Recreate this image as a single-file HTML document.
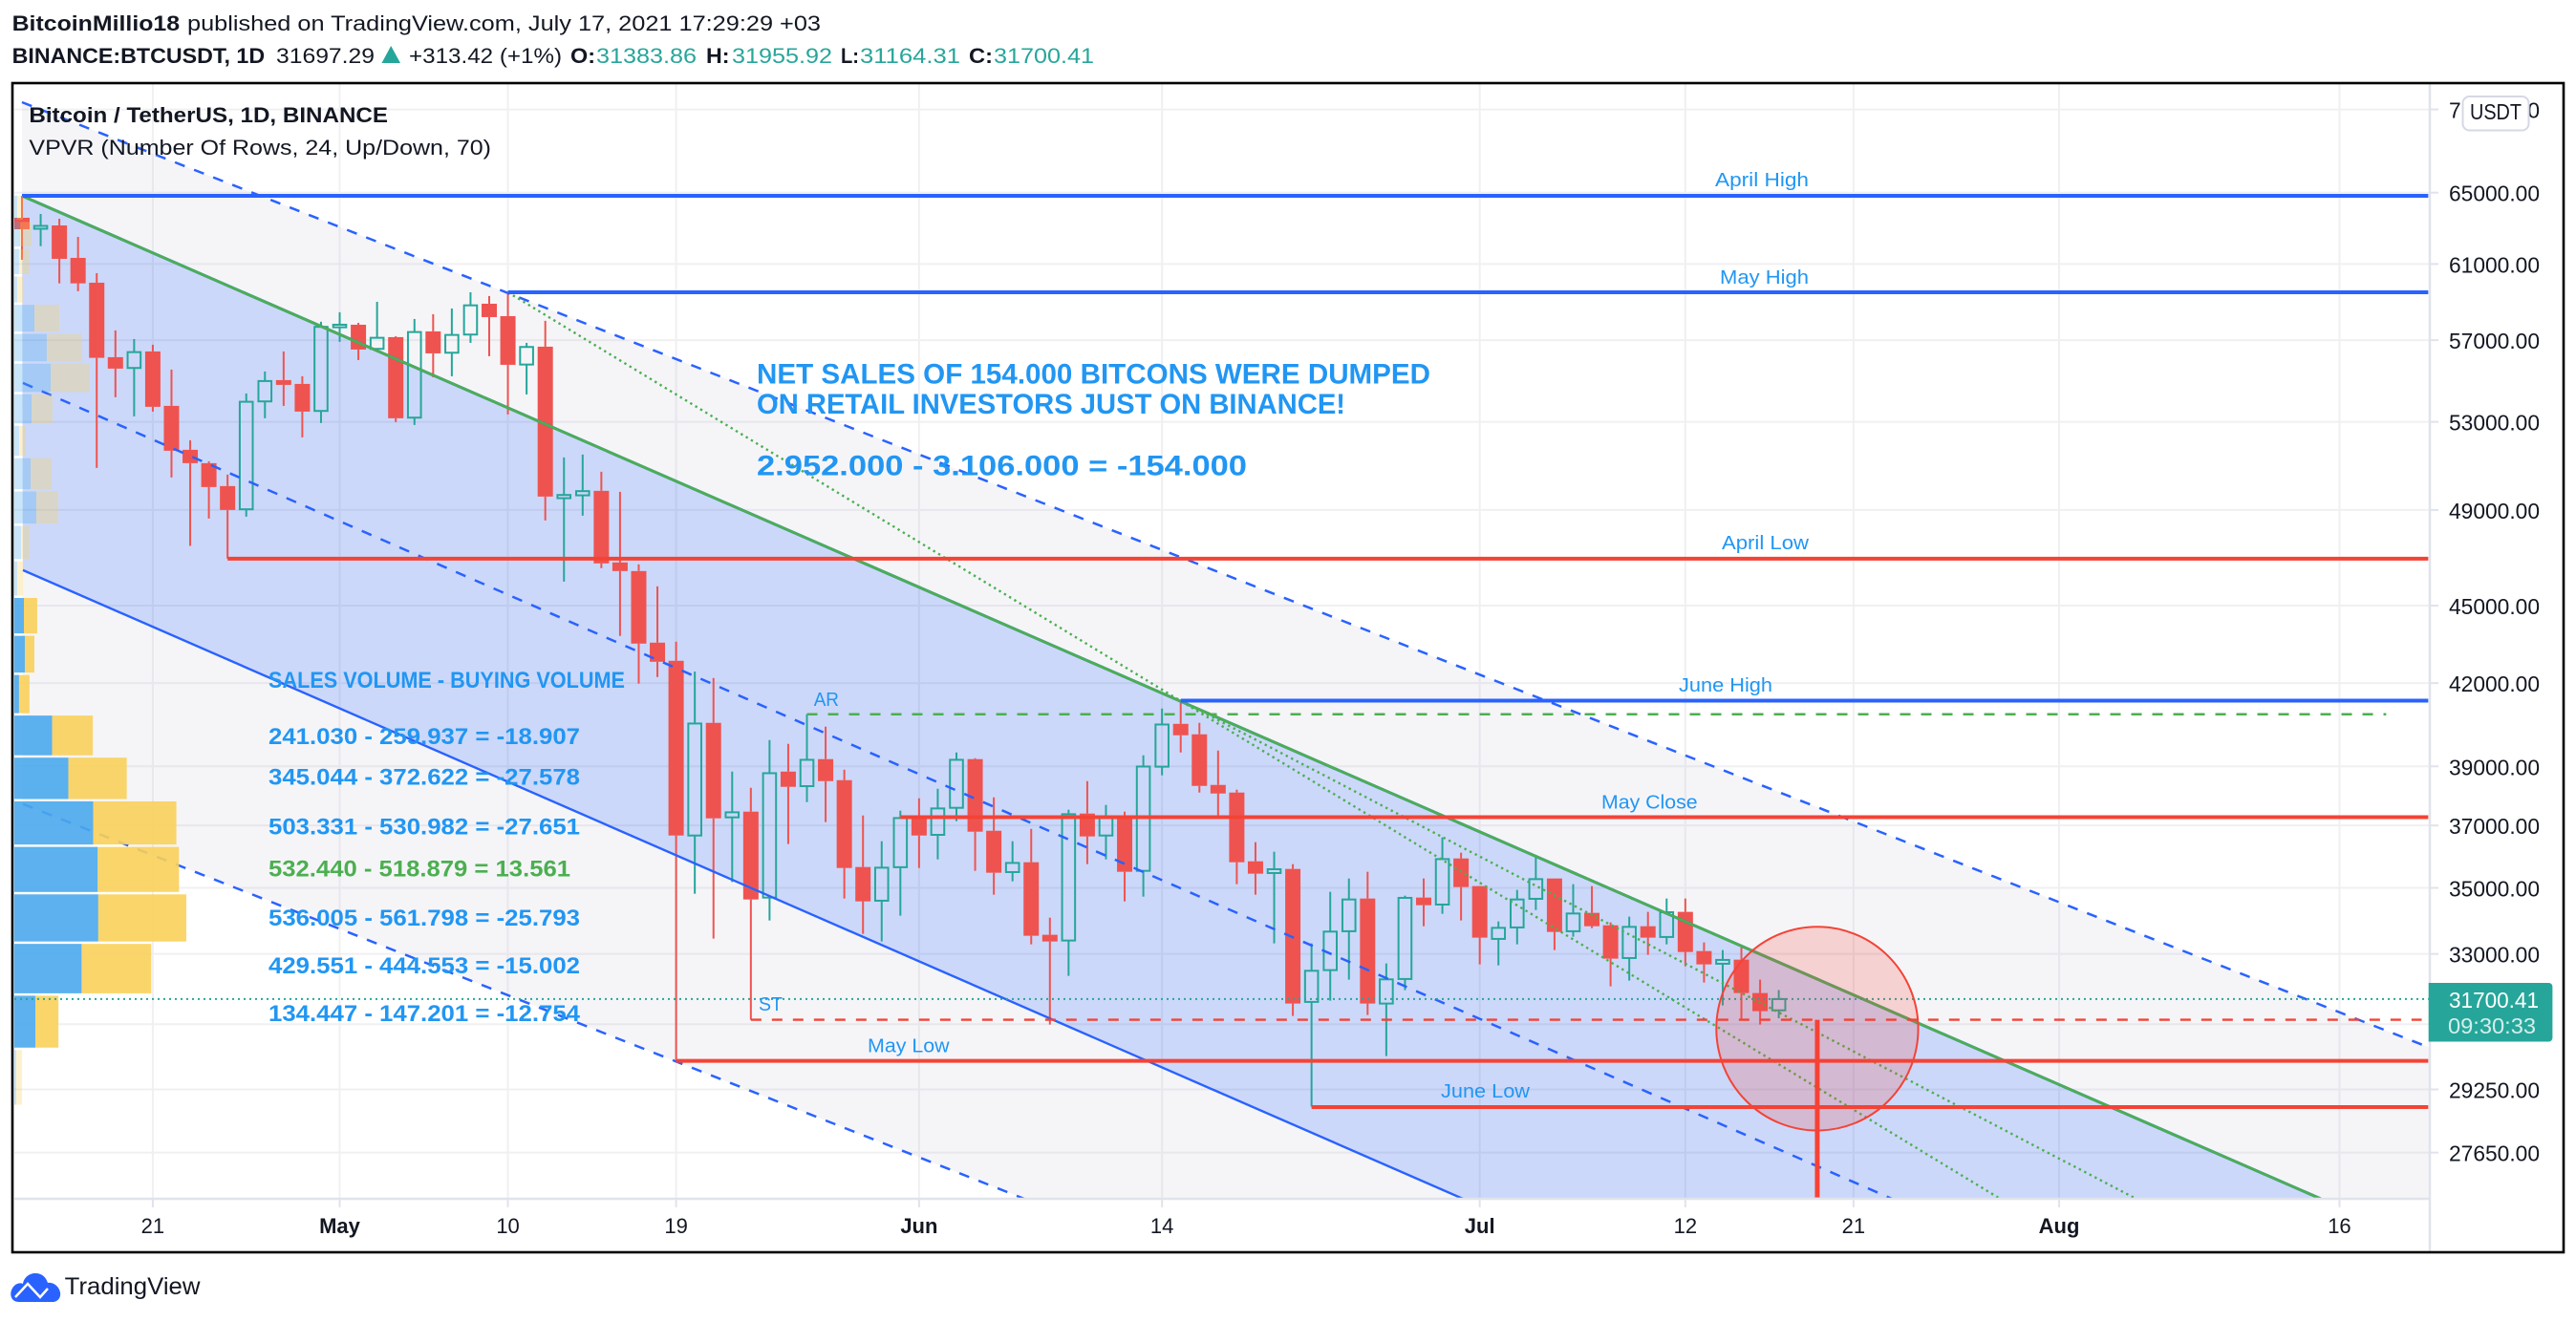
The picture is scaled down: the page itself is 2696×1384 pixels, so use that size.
<!DOCTYPE html>
<html lang="en">
<head>
<meta charset="utf-8">
<title>BTCUSDT 1D chart</title>
<style>
html,body{margin:0;padding:0;background:#fff;width:2696px;height:1384px;overflow:hidden;}
svg{display:block;font-family:"Liberation Sans",sans-serif;}
.hd{font-size:22px;fill:#131722;}
.b{font-weight:bold;}
.up{fill:#26a69a;}
.big{font-size:30px;font-weight:bold;fill:#2196f3;}
.vol{font-size:24px;font-weight:bold;fill:#2196f3;}
.lbl{font-size:20px;fill:#2196f3;}
</style>
</head>
<body>
<svg id="chart" xmlns="http://www.w3.org/2000/svg" width="2696" height="1384" viewBox="0 0 2696 1384">
<defs><clipPath id="plot"><rect x="15" y="88" width="2527" height="1166"/></clipPath></defs>
<rect x="0" y="0" width="2696" height="1384" fill="#fff"/>

<g>
<text class="hd b" x="12.6" y="32" textLength="175.5" lengthAdjust="spacingAndGlyphs">BitcoinMillio18</text>
<text class="hd" x="196" y="32" textLength="663" lengthAdjust="spacingAndGlyphs">published on TradingView.com, July 17, 2021 17:29:29 +03</text>
<text class="hd b" x="12.6" y="66" textLength="264.5" lengthAdjust="spacingAndGlyphs">BINANCE:BTCUSDT, 1D</text>
<text class="hd" x="289" y="66" textLength="103" lengthAdjust="spacingAndGlyphs">31697.29</text>
<polygon points="399.5,66 419,66 409.2,48" fill="#26a69a"/>
<text class="hd" x="428" y="66" textLength="160" lengthAdjust="spacingAndGlyphs">+313.42 (+1%)</text>
<text class="hd b" x="597" y="66" textLength="26" lengthAdjust="spacingAndGlyphs">O:</text>
<text class="hd up" x="624" y="66" textLength="105" lengthAdjust="spacingAndGlyphs">31383.86</text>
<text class="hd b" x="739" y="66" textLength="24.5" lengthAdjust="spacingAndGlyphs">H:</text>
<text class="hd up" x="766" y="66" textLength="105" lengthAdjust="spacingAndGlyphs">31955.92</text>
<text class="hd b" x="880" y="66" textLength="19" lengthAdjust="spacingAndGlyphs">L:</text>
<text class="hd up" x="900" y="66" textLength="105" lengthAdjust="spacingAndGlyphs">31164.31</text>
<text class="hd b" x="1014" y="66" textLength="25" lengthAdjust="spacingAndGlyphs">C:</text>
<text class="hd up" x="1040" y="66" textLength="105" lengthAdjust="spacingAndGlyphs">31700.41</text>
</g>

<g id="gridLayer"></g>
<g id="plotLayer" clip-path="url(#plot)">
  <g id="fillLayer"></g>
  <g id="candleLayer"></g>
  <g id="lineLayer"></g>
  <g id="vpvrLayer"></g>
  <g id="topLayer"></g>
</g>

<g>
<text x="30.4" y="128" font-size="22.5" font-weight="bold" fill="#131722" textLength="375.6" lengthAdjust="spacingAndGlyphs">Bitcoin / TetherUS, 1D, BINANCE</text>
<text x="30.4" y="162" font-size="22.5" fill="#131722" textLength="483.6" lengthAdjust="spacingAndGlyphs">VPVR (Number Of Rows, 24, Up/Down, 70)</text>

<text class="big" x="792" y="401.5" textLength="705" lengthAdjust="spacingAndGlyphs">NET SALES OF 154.000 BITCONS WERE DUMPED</text>
<text class="big" x="792" y="433" textLength="616" lengthAdjust="spacingAndGlyphs">ON RETAIL INVESTORS JUST ON BINANCE!</text>
<text class="big" x="792" y="497.5" textLength="513" lengthAdjust="spacingAndGlyphs">2.952.000 - 3.106.000 = -154.000</text>

<text class="vol" x="281" y="720" textLength="373" lengthAdjust="spacingAndGlyphs">SALES VOLUME - BUYING VOLUME</text>
<text class="vol" x="281" y="779" textLength="326" lengthAdjust="spacingAndGlyphs">241.030 - 259.937 = -18.907</text>
<text class="vol" x="281" y="821.7" textLength="326" lengthAdjust="spacingAndGlyphs">345.044 - 372.622 = -27.578</text>
<text class="vol" x="281" y="873.3" textLength="326" lengthAdjust="spacingAndGlyphs">503.331 - 530.982 = -27.651</text>
<text class="vol" style="fill:#4caf50" x="281" y="917.3" textLength="316" lengthAdjust="spacingAndGlyphs">532.440 - 518.879 = 13.561</text>
<text class="vol" x="281" y="969" textLength="326" lengthAdjust="spacingAndGlyphs">536.005 - 561.798 = -25.793</text>
<text class="vol" x="281" y="1019" textLength="326" lengthAdjust="spacingAndGlyphs">429.551 - 444.553 = -15.002</text>
<text class="vol" x="281" y="1069" textLength="326" lengthAdjust="spacingAndGlyphs">134.447 - 147.201 = -12.754</text>

<text class="lbl" x="1795" y="195" textLength="98" lengthAdjust="spacingAndGlyphs">April High</text>
<text class="lbl" x="1800" y="297" textLength="93" lengthAdjust="spacingAndGlyphs">May High</text>
<text class="lbl" x="1802" y="575" textLength="91" lengthAdjust="spacingAndGlyphs">April Low</text>
<text class="lbl" x="1757" y="724" textLength="98" lengthAdjust="spacingAndGlyphs">June High</text>
<text class="lbl" x="1676" y="846.7" textLength="100.6" lengthAdjust="spacingAndGlyphs">May Close</text>
<text class="lbl" x="908" y="1101.7" textLength="85.6" lengthAdjust="spacingAndGlyphs">May Low</text>
<text class="lbl" x="1508" y="1149" textLength="93" lengthAdjust="spacingAndGlyphs">June Low</text>
<text class="lbl" x="851.7" y="739" textLength="26.3" lengthAdjust="spacingAndGlyphs">AR</text>
<text class="lbl" x="794" y="1058" textLength="25" lengthAdjust="spacingAndGlyphs">ST</text>
</g>

<g id="axisLayer"></g>

<g>
<path d="M2541.7 1029H2667.4a4 4 0 0 1 4 4V1086.5a4 4 0 0 1 -4 4H2541.7Z" fill="#26a69a"/>
<text x="2563" y="1055" font-size="23" fill="#fff" textLength="94" lengthAdjust="spacingAndGlyphs">31700.41</text>
<text x="2562" y="1082" font-size="23" fill="#d4eeeb" textLength="92" lengthAdjust="spacingAndGlyphs">09:30:33</text>
</g>

<g>
<rect x="2577.5" y="101" width="69" height="35.5" rx="7" fill="#fff" stroke="#d6d8e4" stroke-width="2"/>
<text x="2585" y="125" font-size="23" fill="#131722" textLength="54" lengthAdjust="spacingAndGlyphs">USDT</text>
</g>

<rect x="13" y="87" width="2670" height="1224" fill="none" stroke="#000" stroke-width="2.6"/>

<g>
<path d="M20 1363C10 1363 9 1352 15 1346C18 1343 22 1343 24 1344C25 1337 31 1333 37 1333C44 1333 48 1337 50 1343C56 1342 62 1347 63 1353C64 1359 60 1363 55 1363Z" fill="#2962ff"/>
<polyline points="16,1358 29,1344 42,1358 50,1349" fill="none" stroke="#fff" stroke-width="2.5"/>
<text x="67.7" y="1355" font-size="25" fill="#131722" textLength="141.8" lengthAdjust="spacingAndGlyphs">TradingView</text>
</g>
</svg>

<script>
// ---- candle data (Apr 14 – Jul 17 2021, one entry per day) ----
const opens=[63563,62944,63131,61333,59992,56143,55606,56430,53760,51698,51087,50055,49031,53975,55009,54822,53519,57657,57789,56560,57155,53200,57447,56366,57285,58880,58233,55776,56670,49518,49644,49843,46764,46407,43541,42843,36670,40540,37268,37458,34699,38819,38318,39251,38523,35656,34602,35650,37236,36692,37586,39251,36826,35495,35808,33568,33397,37395,36670,37268,35535,38988,40504,40128,38360,38100,35838,35465,35595,31620,32528,33674,34669,31574,32272,34699,34483,35929,35055,33445,33788,34660,35294,33674,34230,33853,32880,33825,33502,34260,33085,32713,32833,31871,31383.86];
const highs=[64818,63780,63509,62490,60504,57496,57057,56767,55526,52140,51174,50567,54358,55431,56430,55196,57943,58432,57887,58980,57203,58085,58332,58630,59484,59282,59484,56863,57990,51348,51479,50698,49800,46684,45780,43578,42434,42192,38819,38262,39924,39789,40851,40402,38885,37331,36484,37490,37906,38230,39485,39285,37938,36484,36888,34085,37522,38490,37682,37458,39385,41060,41305,40540,39552,38197,36453,36145,35747,33312,34877,35294,35505,32722,34758,35294,36608,36114,35055,33970,34936,36000,35294,35115,35055,33940,34114,34260,34669,34669,33340,33114,33199,32253,31955.92];
const lows=[61229,61977,59956,59535,50870,54174,53260,53487,50439,47457,48629,46923,48711,53170,53760,52273,52945,56912,55999,56430,52989,52855,55149,55196,56863,56191,53350,54311,48546,45975,48753,46526,43800,41979,42228,30030,34817,33454,35183,31121,33998,36392,37778,37110,34669,33596,33368,34143,35625,35899,37141,35535,34788,35204,33283,30989,32362,35747,35899,34581,34728,38688,39485,38100,37268,35115,34788,33312,31228,28805,31655,32253,31254,30132,31952,33825,34201,33999,32694,32666,33283,34317,33114,33510,33768,32062,32226,32973,33283,32639,32170,31521,31121,30989,31164.31];
const closes=[62917,63105,61281,59956,56110,55573,56396,53715,51654,51087,50012,49002,53957,54962,54775,53487,57680,57789,56526,57120,53170,57413,56334,57266,58795,58183,55762,56655,49589,49660,49830,46724,46407,43504,42806,36670,40516,37236,37436,34640,38763,38295,39227,38490,35625,34581,35635,37245,36670,37565,39227,36795,35475,35785,33539,33368,37373,36640,37300,35505,38993,40480,40094,38327,38068,35808,35445,35586,31574,32509,33663,34640,31574,32262,34690,34464,35908,35025,33482,33776,34640,35273,33653,34210,33825,32862,33805,33482,34250,33057,32694,32825,31871,31360,31700.41];

// ---- axis data ----
const priceTicks=[70000,65000,61000,57000,53000,49000,45000,42000,39000,37000,35000,33000,31000,29250,27650];
const priceTickLabels=['70000.00','65000.00','61000.00','57000.00','53000.00','49000.00','45000.00','42000.00','39000.00','37000.00','35000.00','33000.00','','29250.00','27650.00'];
const timeTickDays=[7,17,26,35,48,61,78,89,98,109,124];
const timeTickLabels=['21','May','10','19','Jun','14','Jul','12','21','Aug','16'];
const timeTickBold=[false,true,false,false,true,false,true,false,false,true,false];
const lastPrice=31700.41;

// ---- volume profile data (thousands, row 0 at the top of the range) ----
const vpvrHigh=64854;
const vpvrLow=28805;
const vpvrUp=[18,37,30,18,128,207,232,110,30,104,140,43,18,61,67,30,241.03,345.044,503.331,532.44,536.005,429.551,134.447,12];
const vpvrDown=[37,73,67,37,159,226,250,134,43,134,140,55,37,85,61,67,259.937,372.622,530.982,518.879,561.798,444.553,147.201,37];
const valueAreaFirstRow=13;
const valueAreaLastRow=22;

// ---- horizontal level drawings ----
const levelNames=['april-high-line','may-high-line','april-low-line','june-high-line','may-close-line','may-low-line','june-low-line','ar-level-line','st-level-line'];
const levelPrices=[64818,59484,46923,41351,37272,30004,28795,40851,31121];
const levelStartDays=[0,26,11,62,47,35,69,42,39];
const levelEndDays=[128.75,128.75,128.75,128.75,128.75,128.75,128.75,126.5,128.4];

// ---- trend drawings: day/price endpoints ----
const channelUpper=[0,64818,122.84,26567];
const channelMiddle=[0.05,54869,122.84,22488];
const channelLower=[0.05,46446,122.84,19034];
const outerUpper=[0,70452,128.83,30357];
const outerLower=[0.05,37713,53.63,26536];
const fanSteep=[26,59484,105.73,26567];
const fanShallow=[62,41351,112.99,26567];
const markerDay=96.06;
const markerTopPrice=31121;
const markerBottomPrice=26567;
const circleTopPrice=33808;
const circleBottomPrice=28200;
const circleRadiusDays=5.4;

// ---- scales ----
const NS='http://www.w3.org/2000/svg';
const DAY0_X=23, DAY_W=19.56, PLOT_R=2543, PLOT_B=1255;
function xScale(day){return DAY0_X+DAY_W*day;}
function yScale(price){return 201.7+1175.7*Math.log(65000/price);}
function mk(tag,attrs,parent){
  const el=document.createElementNS(NS,tag);
  for(const k in attrs){el.setAttribute(k,attrs[k]);}
  parent.appendChild(el);
  return el;
}
const gridLayer=document.getElementById('gridLayer');
const fillLayer=document.getElementById('fillLayer');
const candleLayer=document.getElementById('candleLayer');
const lineLayer=document.getElementById('lineLayer');
const vpvrLayer=document.getElementById('vpvrLayer');
const topLayer=document.getElementById('topLayer');
const axisLayer=document.getElementById('axisLayer');

// grid + axes
priceTicks.forEach(function(p,i){
  const y=yScale(p);
  const g=mk('line',{x1:15,x2:PLOT_R,y1:y,y2:y,stroke:'#f0f0f3','stroke-width':2},gridLayer);
  
  
  const t=mk('line',{x1:PLOT_R,x2:PLOT_R+9,y1:y,y2:y,stroke:'#e0e3eb','stroke-width':2},axisLayer);
  
  
  if(priceTickLabels[i]){
    const l=mk('text',{x:2563,y:y+9,'font-size':23,fill:'#131722',textLength:95,lengthAdjust:'spacingAndGlyphs'},axisLayer);
    l.textContent=priceTickLabels[i];
    
    
  }
});
timeTickDays.forEach(function(d,i){
  const x=xScale(d);
  const g=mk('line',{x1:x,x2:x,y1:88,y2:PLOT_B,stroke:'#f0f0f3','stroke-width':2},gridLayer);
  
  
  const t=mk('line',{x1:x,x2:x,y1:PLOT_B,y2:PLOT_B+9,stroke:'#e0e3eb','stroke-width':2},axisLayer);
  
  
  const l=mk('text',{x:x,y:1291,'font-size':22,'text-anchor':'middle',fill:'#131722','font-weight':timeTickBold[i]?'bold':'normal'},axisLayer);
  l.textContent=timeTickLabels[i];
  
  
});
const yAxisLine=mk('line',{x1:PLOT_R,x2:PLOT_R,y1:88,y2:1310,stroke:'#e0e3eb','stroke-width':2.5},axisLayer);


const xAxisLine=mk('line',{x1:15,x2:PLOT_R,y1:PLOT_B,y2:PLOT_B,stroke:'#e0e3eb','stroke-width':2.5},axisLayer);



// trend-line helpers: segments are extended/trimmed to the plot rectangle
function pts(seg){return {x1:xScale(seg[0]),y1:yScale(seg[1]),x2:xScale(seg[2]),y2:yScale(seg[3])};}
function yAt(p,x){return p.y1+(p.y2-p.y1)*(x-p.x1)/(p.x2-p.x1);}
function xAt(p,y){return p.x1+(p.x2-p.x1)*(y-p.y1)/(p.y2-p.y1);}
function plotExit(p){
  const yRight=yAt(p,PLOT_R);
  if(yRight<=PLOT_B){return [PLOT_R,yRight];}
  return [xAt(p,PLOT_B),PLOT_B];
}

// fills
const ou=pts(outerUpper), ol=pts(outerLower), cu=pts(channelUpper), cl=pts(channelLower);
const ouExit=plotExit(ou), olExit=plotExit(ol), cuExit=plotExit(cu), clExit=plotExit(cl);
const greyFill=mk('polygon',{points:[ou.x1,ou.y1,ouExit[0],ouExit[1],PLOT_R,PLOT_B,olExit[0],olExit[1],ol.x1,ol.y1].join(' '),fill:'rgba(100,100,150,0.065)'},fillLayer);


const blueFill=mk('polygon',{points:[cu.x1,cu.y1,cuExit[0],cuExit[1],clExit[0],clExit[1],cl.x1,cl.y1].join(' '),fill:'rgba(41,98,255,0.2)'},fillLayer);



// candles
const UP='#26a69a', DOWN='#ef5350';
closes.forEach(function(c,i){
  const o=opens[i], x=xScale(i), isUp=c>=o, col=isUp?UP:DOWN;
  const top=yScale(Math.max(o,c)), bot=yScale(Math.min(o,c));
  const wh=mk('line',{x1:x,x2:x,y1:yScale(highs[i]),y2:top,stroke:col,'stroke-width':2},candleLayer);
  
  
  const wl=mk('line',{x1:x,x2:x,y1:bot,y2:yScale(lows[i]),stroke:col,'stroke-width':2},candleLayer);
  
  
  let b;
  if(isUp){
    b=mk('rect',{x:x-6.8,y:top,width:13.6,height:Math.max(bot-top,0.5),fill:'none',stroke:col,'stroke-width':2},candleLayer);
  }else{
    b=mk('rect',{x:x-8,y:top,width:16,height:Math.max(bot-top,1),fill:col},candleLayer);
  }
  
  
});

// channel + fan lines
function drawSeg(seg,color,width,dash){
  const p=pts(seg);
  const end=plotExit(p);
  const attrs={x1:p.x1,y1:p.y1,x2:end[0],y2:end[1],stroke:color,'stroke-width':width};
  if(dash){attrs['stroke-dasharray']=dash;}
  return mk('line',attrs,lineLayer);
}
const l1=drawSeg(outerUpper,'#2962ff',2.5,'11 10.5');


const l2=drawSeg(outerLower,'#2962ff',2.5,'11 10.5');


const l3=drawSeg(channelMiddle,'#2962ff',2.5,'11 10.5');


const l4=drawSeg(channelLower,'#2962ff',2.4,null);


const l5=drawSeg(channelUpper,'#2962ff',3,null);


const l6=drawSeg(channelUpper,'#4caf50',2.8,null);


const l7=drawSeg(fanSteep,'#4caf50',2.4,'2.4 3.8');


const l8=drawSeg(fanShallow,'#4caf50',2.4,'2.4 3.8');



// horizontal levels
levelPrices.forEach(function(p,i){
  const name=levelNames[i];
  const isBlue=name==='april-high-line'||name==='may-high-line'||name==='june-high-line';
  const isAr=name==='ar-level-line', isSt=name==='st-level-line';
  const color=isBlue?'#2962ff':(isAr?'#4caf50':'#f44336');
  const y=yScale(p);
  const attrs={x1:xScale(levelStartDays[i]),x2:xScale(levelEndDays[i]),y1:y,y2:y,stroke:color,'stroke-width':(isAr||isSt)?2.4:4};
  if(isAr||isSt){attrs['stroke-dasharray']='11 11';}
  const el=mk('line',attrs,lineLayer);
  
  
});

// volume profile
const vpvrStep=(vpvrHigh-vpvrLow)/vpvrUp.length;
const volPx=1/6.1;
vpvrUp.forEach(function(u,i){
  const yTop=yScale(vpvrHigh-i*vpvrStep)+0.5;
  const yBot=yScale(vpvrHigh-(i+1)*vpvrStep)-2;
  const inVA=i>=valueAreaFirstRow&&i<=valueAreaLastRow;
  const op=inVA?0.9:0.3;
  const w1=u*volPx, w2=vpvrDown[i]*volPx;
  const r1=mk('rect',{x:15,y:yTop,width:w1,height:yBot-yTop,fill:'#4aa8ec','fill-opacity':op},vpvrLayer);
  
  
  const r2=mk('rect',{x:15+w1,y:yTop,width:w2,height:yBot-yTop,fill:'#fad05a','fill-opacity':op},vpvrLayer);
  
  
});

// last-price line
const lpY=yScale(lastPrice);
const lp=mk('line',{x1:15,x2:PLOT_R,y1:lpY,y2:lpY,stroke:'#26a69a','stroke-width':2,'stroke-dasharray':'2 4'},topLayer);



// marker + circle
const mx=xScale(markerDay);
const vm=mk('line',{x1:mx,x2:mx,y1:yScale(markerTopPrice),y2:yScale(markerBottomPrice),stroke:'#f44336','stroke-width':5},topLayer);


const cTop=yScale(circleTopPrice), cBot=yScale(circleBottomPrice);
const circ=mk('ellipse',{cx:mx,cy:(cTop+cBot)/2,rx:circleRadiusDays*DAY_W,ry:(cBot-cTop)/2,fill:'rgba(244,67,54,0.2)',stroke:'#f44336','stroke-width':2},topLayer);


</script>
</body>
</html>
